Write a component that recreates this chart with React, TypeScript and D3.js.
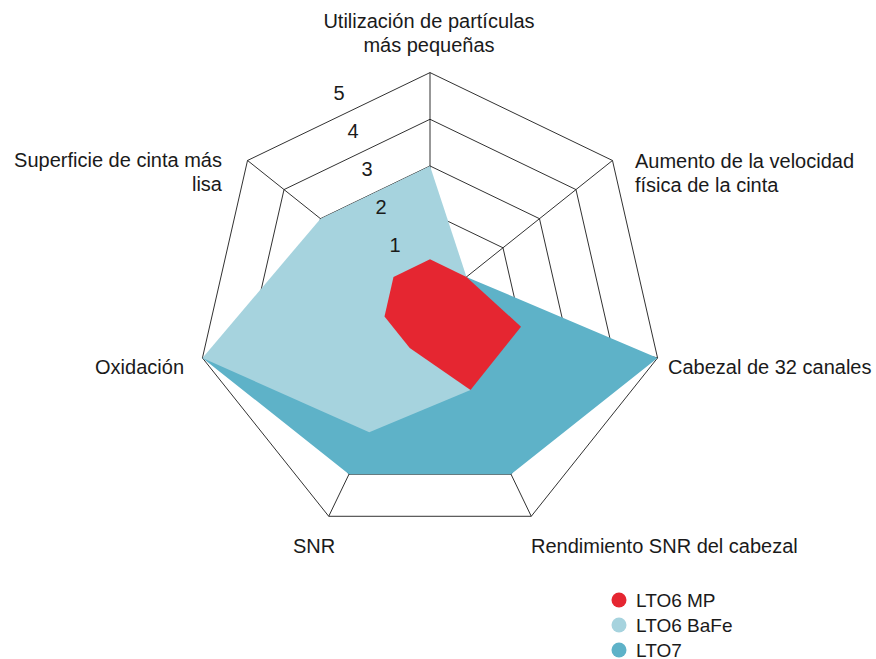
import React from "react";
import * as d3 from "d3";

const axes: string[][] = [
  ["Utilización de partículas", "más pequeñas"],
  ["Aumento de la velocidad", "física de la cinta"],
  ["Cabezal de 32 canales"],
  ["Rendimiento SNR del cabezal"],
  ["SNR"],
  ["Oxidación"],
  ["Superficie de cinta más", "lisa"],
];

const seriesNames = ["LTO7", "LTO6 BaFe", "LTO6 MP"];
const lto7 = [1, 1, 5, 4, 4, 5, 1];
const lto6BaFe = [3, 1, 1, 2, 3, 5, 3];
const lto6MP = [1, 1, 2, 2, 1, 1, 1];
const seriesColors = ["#5eb2c8", "#a6d3de", "#e52631"];
const tickValues = [1, 2, 3, 4, 5];

const W = 876;
const H = 659;
const cx = 430;
const cy = 306;
const R = 233.4;

const labelPos: { x: number; y: number; anchor: string }[] = [
  { x: 429, y: 28, anchor: "middle" },
  { x: 635, y: 168, anchor: "start" },
  { x: 668, y: 374, anchor: "start" },
  { x: 531, y: 553, anchor: "start" },
  { x: 293, y: 553, anchor: "start" },
  { x: 184, y: 374, anchor: "end" },
  { x: 222, y: 167, anchor: "end" },
];

export default function App() {
  const n = axes.length;
  const r = d3.scaleLinear().domain([0, 5]).range([0, R]);
  const ang = (i: number) => (i * 2 * Math.PI) / n;
  const radial = d3
    .lineRadial<number>()
    .angle((_, i) => ang(i))
    .radius((d) => r(d))
    .curve(d3.curveLinearClosed);

  const allSeries = [lto7, lto6BaFe, lto6MP];
  const tickX = d3.scaleLinear().domain([1, 5]).range([395, 339]);
  const tickY = d3.scaleLinear().domain([1, 5]).range([245, 93]);

  const legendItems = [
    { name: seriesNames[2], color: seriesColors[2] },
    { name: seriesNames[1], color: seriesColors[1] },
    { name: seriesNames[0], color: seriesColors[0] },
  ];

  const font = "'Liberation Sans', Arial, sans-serif";

  return (
    <svg
      width={W}
      height={H}
      style={{ position: "absolute", left: 0, top: 0, background: "#fff" }}
      fontFamily={font}
    >
      <g transform={`translate(${cx},${cy})`}>
        {tickValues.map((t) => (
          <path
            key={"ring" + t}
            d={radial(new Array(n).fill(t)) || ""}
            fill="none"
            stroke="#1a1a1a"
            strokeWidth={0.9}
          />
        ))}
        {axes.map((_, i) => (
          <line
            key={"spoke" + i}
            x1={0}
            y1={0}
            x2={r(5) * Math.sin(ang(i))}
            y2={-r(5) * Math.cos(ang(i))}
            stroke="#1a1a1a"
            strokeWidth={0.9}
          />
        ))}
        {allSeries.map((s, k) => (
          <path key={"s" + k} d={radial(s) || ""} fill={seriesColors[k]} stroke="none" />
        ))}
      </g>
      {tickValues.map((t) => (
        <text
          key={"tick" + t}
          x={tickX(t)}
          y={tickY(t)}
          dy="0.35em"
          textAnchor="middle"
          fontSize={20}
          fill="#1a1a1a"
        >
          {t}
        </text>
      ))}
      {axes.map((lines, i) => (
        <text
          key={"lab" + i}
          x={labelPos[i].x}
          y={labelPos[i].y}
          textAnchor={labelPos[i].anchor}
          fontSize={20}
          fill="#1a1a1a"
        >
          {lines.map((l, j) => (
            <tspan key={j} x={labelPos[i].x} dy={j === 0 ? 0 : 24}>
              {l}
            </tspan>
          ))}
        </text>
      ))}
      {legendItems.map((it, i) => (
        <g key={"leg" + i} transform={`translate(619,${600 + i * 25})`}>
          <circle r={7.5} fill={it.color} />
          <text x={17} y={0} dy="0.35em" fontSize={19} fill="#1a1a1a">
            {it.name}
          </text>
        </g>
      ))}
    </svg>
  );
}
